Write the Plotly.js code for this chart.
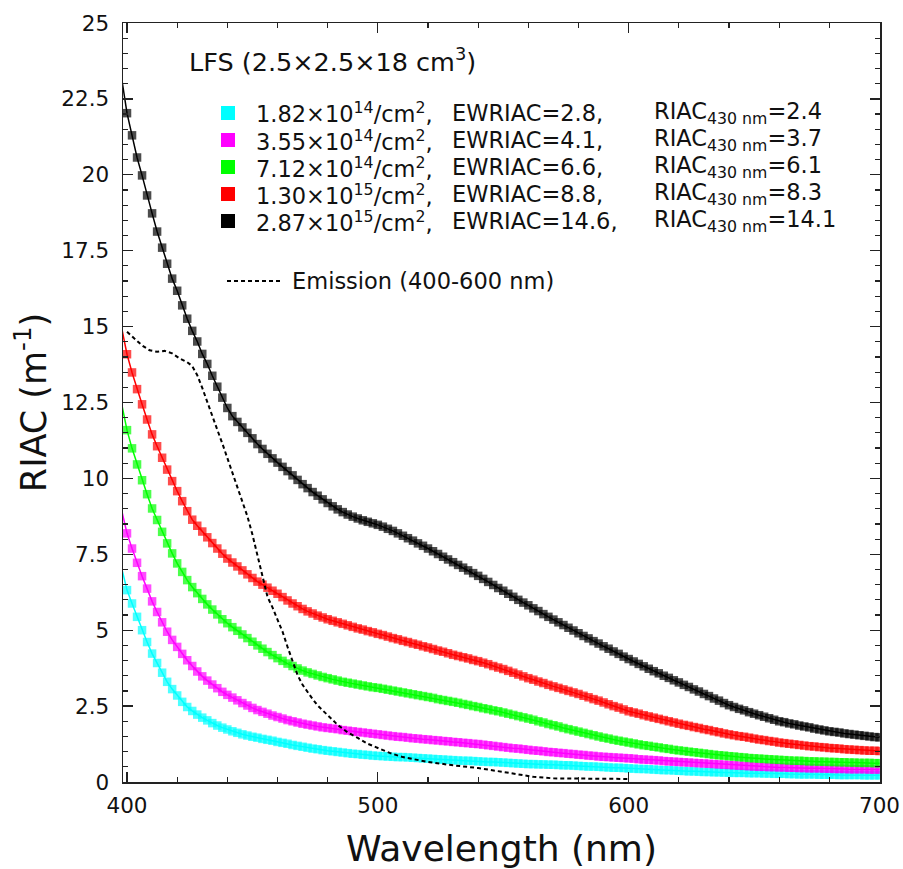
<!DOCTYPE html>
<html>
<head>
<meta charset="utf-8">
<script src="https://cdn.plot.ly/plotly-3.0.1.min.js"></script>
<style>html,body{margin:0;padding:0;background:#fff;}</style>
</head>
<body>
<div id="chart" style="width:903px;height:869px;"></div>
<script>
// Wavelength grid (nm), 2 nm step; first point (398) lies just left of the axis.
const wavelength = [];
for (let w = 398; w <= 700; w += 2) wavelength.push(w);

const seriesNames = ["1.82×10<sup>14</sup>/cm<sup>2</sup>,", "3.55×10<sup>14</sup>/cm<sup>2</sup>,", "7.12×10<sup>14</sup>/cm<sup>2</sup>,", "1.30×10<sup>15</sup>/cm<sup>2</sup>,", "2.87×10<sup>15</sup>/cm<sup>2</sup>,"];
const ewriac = ["EWRIAC=2.8,", "EWRIAC=4.1,", "EWRIAC=6.6,", "EWRIAC=8.8,", "EWRIAC=14.6,"];
const riac430 = ["2.4", "3.7", "6.1", "8.3", "14.1"];
const seriesColors = ["#00ffff", "#ff00ff", "#00ff00", "#ff0000", "#000000"];

const cyan = [7.0,
  6.32,5.88,5.44,5.0,4.61,4.23,3.92,3.6,3.3,3.06,
  2.85,2.64,2.47,2.34,2.22,2.12,2.03,1.94,1.86,1.79,
  1.73,1.67,1.62,1.57,1.53,1.49,1.46,1.42,1.39,1.36,
  1.32,1.29,1.26,1.22,1.19,1.16,1.13,1.1,1.08,1.05,
  1.03,1.01,0.99,0.97,0.95,0.93,0.92,0.9,0.89,0.87,
  0.86,0.85,0.84,0.83,0.82,0.82,0.81,0.8,0.79,0.78,
  0.77,0.76,0.75,0.74,0.73,0.72,0.71,0.7,0.7,0.69,
  0.68,0.67,0.66,0.66,0.65,0.64,0.63,0.62,0.61,0.6,
  0.59,0.59,0.58,0.58,0.57,0.57,0.56,0.55,0.55,0.54,
  0.53,0.52,0.51,0.51,0.5,0.49,0.48,0.47,0.47,0.46,
  0.45,0.44,0.43,0.43,0.42,0.41,0.4,0.39,0.39,0.38,
  0.37,0.36,0.35,0.35,0.34,0.33,0.33,0.32,0.32,0.31,
  0.31,0.3,0.3,0.3,0.29,0.29,0.29,0.28,0.28,0.27,
  0.27,0.27,0.26,0.26,0.25,0.25,0.25,0.25,0.24,0.24,
  0.24,0.24,0.23,0.23,0.23,0.23,0.23,0.22,0.22,0.22,
  0.22];

const magenta = [8.9,
  8.19,7.69,7.22,6.78,6.37,5.95,5.6,5.26,4.95,4.68,
  4.45,4.22,4.01,3.82,3.64,3.48,3.34,3.21,3.09,2.97,
  2.87,2.78,2.69,2.6,2.52,2.44,2.37,2.31,2.25,2.19,
  2.14,2.09,2.04,2.0,1.96,1.92,1.89,1.86,1.83,1.8,
  1.78,1.76,1.74,1.71,1.69,1.67,1.65,1.63,1.61,1.59,
  1.57,1.55,1.53,1.51,1.49,1.48,1.46,1.44,1.43,1.41,
  1.4,1.38,1.37,1.35,1.34,1.32,1.31,1.29,1.28,1.26,
  1.25,1.23,1.21,1.19,1.17,1.15,1.13,1.11,1.1,1.08,
  1.06,1.04,1.03,1.01,0.99,0.98,0.96,0.95,0.93,0.92,
  0.9,0.89,0.87,0.86,0.84,0.83,0.82,0.81,0.8,0.79,
  0.78,0.77,0.75,0.74,0.73,0.72,0.71,0.69,0.68,0.67,
  0.66,0.65,0.64,0.63,0.62,0.61,0.6,0.59,0.58,0.57,
  0.56,0.55,0.54,0.53,0.52,0.51,0.5,0.5,0.49,0.49,
  0.48,0.48,0.47,0.47,0.46,0.46,0.45,0.45,0.45,0.44,
  0.44,0.43,0.43,0.43,0.42,0.42,0.42,0.42,0.41,0.41,
  0.41];

const green = [12.4,
  11.59,10.99,10.46,9.94,9.48,9.01,8.63,8.24,7.86,7.53,
  7.2,6.92,6.65,6.42,6.22,6.03,5.85,5.68,5.52,5.36,
  5.23,5.1,4.98,4.86,4.74,4.62,4.5,4.39,4.28,4.18,
  4.08,3.99,3.9,3.82,3.74,3.67,3.61,3.56,3.51,3.46,
  3.42,3.38,3.34,3.3,3.27,3.24,3.21,3.18,3.15,3.12,
  3.1,3.07,3.04,3.01,2.98,2.95,2.92,2.89,2.86,2.83,
  2.8,2.77,2.73,2.7,2.67,2.64,2.61,2.57,2.54,2.5,
  2.47,2.43,2.4,2.36,2.33,2.29,2.25,2.21,2.17,2.13,
  2.09,2.05,2.0,1.96,1.91,1.87,1.83,1.78,1.74,1.7,
  1.66,1.62,1.58,1.54,1.5,1.46,1.43,1.39,1.36,1.33,
  1.3,1.27,1.24,1.21,1.19,1.16,1.14,1.11,1.09,1.06,
  1.04,1.02,1.0,0.98,0.96,0.94,0.92,0.9,0.88,0.87,
  0.85,0.84,0.82,0.81,0.79,0.78,0.77,0.76,0.75,0.74,
  0.73,0.72,0.71,0.7,0.7,0.69,0.68,0.68,0.67,0.67,
  0.66,0.66,0.65,0.65,0.64,0.64,0.63,0.63,0.63,0.62,
  0.62];

const red = [14.9,
  14.09,13.49,12.94,12.44,11.94,11.45,11.06,10.68,10.29,9.91,
  9.58,9.25,8.92,8.64,8.44,8.25,8.06,7.87,7.69,7.52,
  7.36,7.23,7.1,6.97,6.84,6.72,6.6,6.5,6.4,6.3,
  6.2,6.09,5.98,5.88,5.79,5.7,5.62,5.55,5.48,5.42,
  5.36,5.31,5.26,5.21,5.16,5.11,5.06,5.02,4.97,4.93,
  4.88,4.84,4.79,4.74,4.7,4.65,4.61,4.56,4.52,4.47,
  4.43,4.38,4.33,4.29,4.24,4.19,4.15,4.11,4.07,4.02,
  3.98,3.93,3.88,3.82,3.77,3.72,3.66,3.6,3.54,3.48,
  3.42,3.37,3.31,3.26,3.2,3.15,3.1,3.05,3.0,2.95,
  2.9,2.84,2.79,2.73,2.68,2.62,2.56,2.5,2.45,2.39,
  2.33,2.29,2.25,2.2,2.16,2.12,2.08,2.04,2.0,1.96,
  1.92,1.88,1.85,1.81,1.78,1.74,1.71,1.67,1.64,1.6,
  1.57,1.54,1.51,1.49,1.46,1.43,1.4,1.38,1.35,1.33,
  1.3,1.28,1.26,1.24,1.22,1.2,1.18,1.17,1.15,1.14,
  1.12,1.11,1.1,1.08,1.07,1.06,1.05,1.04,1.03,1.03,
  1.02];

const black = [23.1,
  22.03,21.3,20.57,19.98,19.32,18.73,18.13,17.6,17.07,16.58,
  16.18,15.7,15.26,14.86,14.51,14.1,13.77,13.38,13.02,12.66,
  12.32,12.05,11.86,11.68,11.5,11.32,11.13,10.97,10.81,10.66,
  10.52,10.38,10.24,10.1,9.95,9.81,9.68,9.55,9.43,9.31,
  9.19,9.08,8.98,8.89,8.81,8.74,8.68,8.62,8.57,8.52,
  8.47,8.41,8.34,8.27,8.19,8.11,8.03,7.95,7.86,7.78,
  7.69,7.6,7.51,7.42,7.33,7.24,7.15,7.06,6.97,6.88,
  6.79,6.69,6.59,6.49,6.39,6.3,6.2,6.1,6.0,5.91,
  5.82,5.72,5.63,5.53,5.44,5.35,5.26,5.17,5.08,4.99,
  4.9,4.81,4.73,4.64,4.56,4.47,4.39,4.3,4.22,4.13,
  4.05,3.97,3.89,3.81,3.73,3.65,3.58,3.5,3.43,3.35,
  3.28,3.2,3.13,3.05,2.98,2.9,2.83,2.75,2.68,2.6,
  2.53,2.47,2.41,2.36,2.3,2.25,2.2,2.15,2.1,2.05,
  2.0,1.97,1.93,1.9,1.86,1.83,1.8,1.76,1.73,1.7,
  1.67,1.65,1.63,1.6,1.58,1.56,1.54,1.52,1.5,1.48,
  1.47];

const emissionX = [400,403,406,409,412,415,418,421,424,426,428,430,432,434,436,438,440,442,444,446,448,450,452,454,456,458,460,462,464,466,468,470,472,474,476,478,480,484,488,492,496,500,505,510,515,520,530,540,550,556,562,570,580,590,600];
const emissionY = [14.83,14.6,14.38,14.22,14.17,14.2,14.12,13.95,13.83,13.7,13.4,12.98,12.5,12.05,11.6,11.15,10.68,10.2,9.7,9.2,8.75,8.15,7.45,6.7,6.1,5.75,5.38,4.95,4.45,3.95,3.52,3.2,2.95,2.73,2.52,2.35,2.2,1.88,1.63,1.45,1.26,1.12,0.95,0.82,0.74,0.66,0.55,0.46,0.33,0.25,0.17,0.12,0.11,0.1,0.1];

const allSeries = [cyan, magenta, green, red, black];

const FONT = "DejaVu Sans, Liberation Sans, Arial, sans-serif";
const markerSizes = wavelength.map(w => (w < 400 ? 0 : 8.5));

const traces = allSeries.map((ys, i) => ({
  type: "scatter",
  mode: "lines+markers",
  x: wavelength,
  y: ys,
  line: {color: seriesColors[i], width: 1.5},
  marker: {symbol: "square", size: markerSizes, color: seriesColors[i], line: {width: 0}},
  showlegend: false,
  hoverinfo: "skip"
}));
traces.push({
  type: "scatter", mode: "lines", x: emissionX, y: emissionY,
  line: {color: "#000", width: 2, dash: "4px,3px"},
  showlegend: false, hoverinfo: "skip"
});

// pixel -> paper helpers for in-plot legend placement
const PL = 123, PT = 23, PW = 757, PH = 759;
const px = x => (x - PL) / PW;
const py = y => (PT + PH - y) / PH;

const rowY = [113, 140, 167, 194, 221];
const annotations = [];
const shapes = [];
annotations.push({xref: "paper", yref: "paper", x: px(187), y: py(60), xanchor: "left", yanchor: "middle",
  text: "LFS (2.5×2.5×18 cm<sup>3</sup>)", showarrow: false, font: {family: FONT, size: 25.5, color: "#111"}});
rowY.forEach((yy, i) => {
  shapes.push({type: "rect", xref: "paper", yref: "paper", x0: px(221), x1: px(235), y0: py(yy + 7), y1: py(yy - 7),
    fillcolor: seriesColors[i], line: {width: 0}});
  annotations.push({xref: "paper", yref: "paper", x: px(254), y: py(yy), xanchor: "left", yanchor: "middle",
    text: seriesNames[i], showarrow: false, font: {family: FONT, size: 22.5, color: "#111"}});
  annotations.push({xref: "paper", yref: "paper", x: px(450), y: py(yy), xanchor: "left", yanchor: "middle",
    text: ewriac[i], showarrow: false, font: {family: FONT, size: 22.5, color: "#111"}});
  annotations.push({xref: "paper", yref: "paper", x: px(652), y: py(yy), xanchor: "left", yanchor: "middle",
    text: "RIAC<sub>430 nm</sub>=" + riac430[i], showarrow: false, font: {family: FONT, size: 22.5, color: "#111"}});
});
shapes.push({type: "line", xref: "paper", yref: "paper", x0: px(227), x1: px(280), y0: py(281), y1: py(281),
  line: {color: "#000", width: 1.8, dash: "4px,3px"}});
annotations.push({xref: "paper", yref: "paper", x: px(290), y: py(281), xanchor: "left", yanchor: "middle",
  text: "Emission (400-600 nm)", showarrow: false, font: {family: FONT, size: 22.5, color: "#111"}});

const axisCommon = {
  showline: true, linecolor: "#222", linewidth: 1.5, mirror: "allticks",
  ticks: "inside", ticklen: 10, tickwidth: 1.3, tickcolor: "#222",
  showgrid: false, zeroline: false, tickfont: {family: FONT, size: 21.5, color: "#111"}
};

const layout = {
  width: 903, height: 869,
  margin: {l: 123, r: 23, t: 23, b: 87},
  paper_bgcolor: "#fff", plot_bgcolor: "#fff",
  font: {family: FONT},
  xaxis: Object.assign({}, axisCommon, {
    range: [398.4, 700.2], tick0: 400, dtick: 100,
    minor: {dtick: 20, ticks: "inside", ticklen: 5, tickcolor: "#222", tickwidth: 1.2},
    ticklabelstandoff: 4,
    title: {text: "Wavelength (nm)", font: {family: FONT, size: 36, color: "#111"}, standoff: 18}
  }),
  yaxis: Object.assign({}, axisCommon, {
    range: [0, 25], tick0: 0, dtick: 2.5,
    minor: {dtick: 0.5, ticks: "inside", ticklen: 5, tickcolor: "#222", tickwidth: 1.2},
    ticklabelstandoff: 8,
    title: {text: "RIAC (m<sup>-1</sup>)", font: {family: FONT, size: 35, color: "#111"}, standoff: 4}
  }),
  annotations: annotations,
  shapes: shapes
};

Plotly.newPlot("chart", traces, layout, {staticPlot: true, displayModeBar: false});
</script>
</body>
</html>
